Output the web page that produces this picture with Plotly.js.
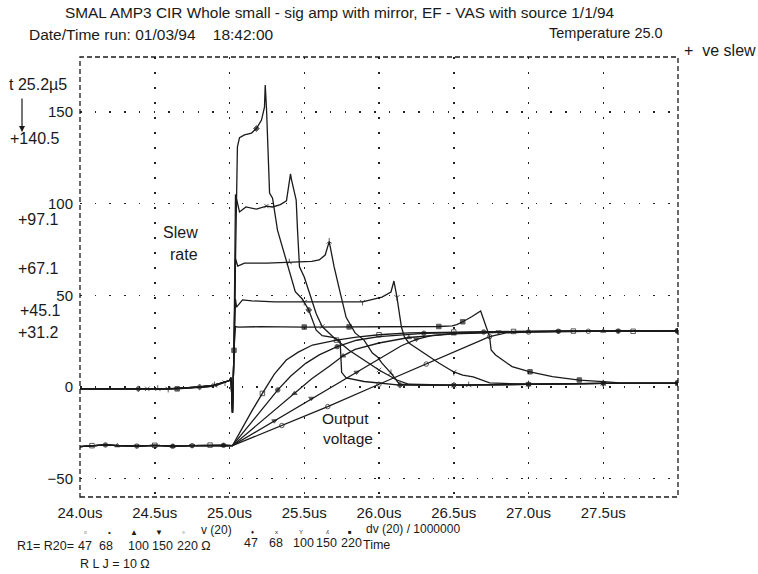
<!DOCTYPE html>
<html><head><meta charset="utf-8">
<script src="https://cdn.plot.ly/plotly-3.0.1.min.js"></script>
<style>body{margin:0;background:#fff}#chart{width:758px;height:574px}</style>
</head><body><div id="chart"></div>
<script>
// ---------- tick labels ----------
const xTickVals = [24.0, 24.5, 25.0, 25.5, 26.0, 26.5, 27.0, 27.5];
const xTickText = ["24.0us", "24.5us", "25.0us", "25.5us", "26.0us", "26.5us", "27.0us", "27.5us"];
const yTickVals = [-50, 0, 50, 100, 150];
const yTickText = ["\u221250", "0", "50", "100", "150"];

// ---------- resistor values ----------
const resistors = ["47", "68", "100", "150", "220"];
const slewPlateau = ["+140.5", "+97.1", "+67.1", "+45.1", "+31.2"];

// ---------- output voltage v(20) ----------
const base_t = [24.0, 24.08, 24.17, 24.25, 24.38, 24.5, 24.62, 24.75, 24.87, 24.96];
const base_v = [-32.5, -32, -31.6, -32, -32.2, -31.8, -32.3, -32, -31.7, -31.8];

const out47_t = [25.02, 25.06, 25.1, 25.15, 25.22, 25.3, 25.38, 25.46, 25.555, 25.716, 25.85, 26.0, 26.2, 26.5, 26.9, 27.3, 27.7, 28.0];
const out47_v = [-32, -26, -20, -13, -3.5, 7, 14.7, 19, 22.9, 25.6, 27.2, 28.5, 29.5, 30, 30.3, 30.5, 30.4, 30.6];
const out68_t = [25.02, 25.15, 25.24, 25.323, 25.41, 25.51, 25.6, 25.72, 25.85, 26.0, 26.3, 26.7, 27.2, 27.6, 28.0];
const out68_v = [-32, -19, -10, -1.6, 6, 12.9, 17.5, 22, 25.5, 27.5, 29.3, 30, 30.4, 30.5, 30.6];
const out100_t = [25.02, 25.2, 25.435, 25.55, 25.67, 25.76, 25.84, 26.0, 26.2, 26.5, 27.0, 27.5, 28.0];
const out100_v = [-32, -19.5, -3.5, 4.5, 11.5, 17, 20.5, 24, 27, 29, 30.2, 30.5, 30.6];
const out150_t = [25.02, 25.3, 25.547, 25.85, 26.15, 26.25, 26.35, 26.5, 26.8, 27.2, 27.6, 28.0];
const out150_v = [-32, -18.5, -6.2, 8, 22.5, 26, 28, 29.3, 30, 30.4, 30.5, 30.6];
const out220_t = [25.02, 25.35, 25.657, 26.0, 26.316, 26.6, 26.74, 26.85, 27.0, 27.4, 28.0];
const out220_v = [-32, -21, -10.7, 1.5, 12.5, 22.5, 27.5, 29.5, 30, 30.4, 30.6];

// ---------- slew rate dv(20)/1e6 ----------
const s47_t = [24.0, 24.2, 24.39, 24.55, 24.7, 24.8, 24.9, 24.97, 25.0, 25.01, 25.02, 25.03, 25.045, 25.053, 25.067, 25.1, 25.147, 25.18, 25.214, 25.227, 25.234, 25.239, 25.248, 25.268, 25.288, 25.321, 25.381, 25.44, 25.487, 25.53, 25.58, 25.62, 25.7, 25.74, 25.75, 25.78, 25.9, 26.14, 26.5, 27.0, 27.5, 28.0];
const s47_v = [-1, -1, -1, -1, -0.5, 0, 1, 2.5, 3.5, 5, -14, 20, 110, 131, 136, 137.5, 138.5, 141, 145.6, 150, 152.7, 164.7, 151, 105.8, 103, 85.6, 69, 52, 48, 42, 31, 28, 27, 25, 8, 5, 3, 1, 1, 1.5, 2, 2];
const s68_t = [24.0, 24.2, 24.45, 24.6, 24.7, 24.8, 24.9, 24.97, 25.0, 25.01, 25.02, 25.03, 25.04, 25.067, 25.11, 25.18, 25.247, 25.288, 25.34, 25.381, 25.408, 25.415, 25.446, 25.455, 25.468, 25.5, 25.535, 25.58, 25.62, 25.69, 25.8, 25.92, 26.0, 26.12, 26.2, 26.5, 27.0, 27.5, 28.0];
const s68_v = [-1, -1, -1, -1, -0.5, 0, 1, 2.5, 3.5, 5, -14, 20, 105, 95.5, 98.2, 97, 98.7, 98.2, 99.5, 101.5, 116.2, 113, 102, 85.6, 65.6, 60, 51, 40, 33, 27.5, 20, 13.6, 9.3, 3.8, 1.5, 1, 1.5, 2, 2];
const s100_t = [24.0, 24.2, 24.52, 24.6, 24.7, 24.8, 24.9, 24.97, 25.0, 25.01, 25.02, 25.03, 25.04, 25.055, 25.1, 25.25, 25.4, 25.55, 25.6, 25.64, 25.667, 25.70, 25.736, 25.78, 25.84, 25.90, 25.956, 25.99, 26.02, 26.08, 26.137, 26.3, 26.6, 27.0, 27.5, 28.0];
const s100_v = [-1, -1, -1, -1, -0.5, 0, 1, 2.5, 3.5, 5, -14, 20, 70, 66, 67.6, 67.6, 68, 68.5, 69.3, 72, 79.3, 65.5, 53, 38, 29.5, 25.6, 18.5, 16.4, 13, 7.6, 1.5, 1, 1, 1.5, 2, 2];
const s150_t = [24.0, 24.2, 24.59, 24.7, 24.8, 24.9, 24.97, 25.0, 25.01, 25.02, 25.03, 25.04, 25.047, 25.087, 25.15, 25.3, 25.5, 25.7, 25.89, 26.02, 26.08, 26.10, 26.12, 26.15, 26.17, 26.2, 26.27, 26.34, 26.40, 26.50, 26.56, 26.63, 26.74, 27.0, 27.5, 28.0];
const s150_v = [-1, -1, -1, -0.5, 0, 1, 2.5, 3.5, 5, -14, 20, 48, 43.6, 47.5, 47, 46.4, 46.4, 46.4, 46.4, 49, 51.8, 57.8, 49, 32.7, 27.3, 24, 20, 16.4, 13.1, 8.2, 6.5, 5.5, 2.2, 1.5, 2, 2];
const s220_t = [24.0, 24.2, 24.65, 24.75, 24.85, 24.92, 24.97, 25.0, 25.01, 25.02, 25.03, 25.04, 25.06, 25.2, 25.5, 25.8, 26.1, 26.4, 26.49, 26.52, 26.56, 26.62, 26.68, 26.706, 26.74, 26.75, 26.78, 26.89, 27.01, 27.16, 27.34, 27.5, 27.61, 28.0];
const s220_v = [-1, -1, -1, -0.5, 0, 1, 2.5, 3.5, 5, -14, 20, 33, 32.7, 32.9, 32.7, 32.8, 32.7, 33, 33.3, 34, 35.6, 38.3, 41.5, 34.9, 27.4, 20.2, 17.5, 11.1, 8.3, 5.6, 3.8, 2.9, 2.2, 2.2];

// ---------- helpers ----------
const INK = "#1a1a1a";
const FONT = "Liberation Sans, Arial, Helvetica, sans-serif";
const W = 758, H = 574, L = 80, R = 678, T = 57, B = 497;
const px = x => (x - L) / (R - L);
const py = y => (B - y) / (B - T);

function markerSizes(t, offset, size) {
  const s = t.map(() => 0);
  let next = 24.0 + offset;
  for (let i = 0; i < t.length; i++) {
    if (t[i] >= next) { s[i] = size; while (next <= t[i]) next += 0.38; }
  }
  return s;
}

const outSeries = [
  [out47_t, out47_v, "square-open", 0.06],
  [out68_t, out68_v, "circle", 0.13],
  [out100_t, out100_v, "triangle-up", 0.2],
  [out150_t, out150_v, "triangle-down", 0.27],
  [out220_t, out220_v, "circle-open", 0.34]
];
const slewSeries = [
  [s47_t, s47_v, "diamond", 0.39],
  [s68_t, s68_v, "x-thin-open", 0.45],
  [s100_t, s100_v, "y-up-open", 0.52],
  [s150_t, s150_v, "y-down-open", 0.59],
  [s220_t, s220_v, "square", 0.65]
];

const traces = [];
outSeries.forEach(([t, v, sym, off], k) => {
  const tt = base_t.concat(t), vv = base_v.concat(v);
  traces.push({
    type: "scatter", mode: "lines+markers", x: tt, y: vv,
    name: "v(20) R=" + resistors[k], showlegend: false, hoverinfo: "skip",
    line: {color: INK, width: 1.3},
    marker: {symbol: sym, color: INK, size: markerSizes(tt, off, 4.5), line: {color: INK, width: 1}}
  });
});
slewSeries.forEach(([t, v, sym, off], k) => {
  traces.push({
    type: "scatter", mode: "lines+markers", x: t, y: v,
    name: "dv(20) R=" + resistors[k], showlegend: false, hoverinfo: "skip",
    line: {color: INK, width: 1.3},
    marker: {symbol: sym, color: INK, size: markerSizes(t, off, 4.5), line: {color: INK, width: 1}}
  });
});

const ann = [];
function A(text, x, y, xanchor, size, extra) {
  ann.push(Object.assign({
    text: text, x: px(x), y: py(y), xref: "paper", yref: "paper",
    xanchor: xanchor, yanchor: "middle", showarrow: false,
    font: {family: FONT, size: size, color: INK}
  }, extra || {}));
}
A("SMAL AMP3 CIR Whole small - sig amp with mirror, EF - VAS with source 1/1/94", 63, 13, "left", 15.4);
A("Date/Time run: 01/03/94\u00a0\u00a0\u00a0\u00a018:42:00", 27, 34, "left", 15.5);
A("Temperature 25.0", 547, 33, "left", 14.5);
A("+\u00a0\u00a0ve slew", 682, 50, "left", 16);
A("t 25.2\u00b55", 7, 85, "left", 16);
// plateau values
const plateauY = [138, 219, 268, 310, 333];
const plateauX = [8, 16, 16, 18, 16];
slewPlateau.forEach((s, i) => A(s, plateauX[i], plateauY[i], "left", 16));
A("Slew", 200, 232, "right", 16);
A("rate", 200, 254, "right", 16);
A("Output", 320, 418, "left", 15.5);
A("voltage", 321, 438, "left", 15.5);
// arrow
ann.push({text: "", x: px(22), y: py(132), xref: "paper", yref: "paper", showarrow: true,
  ax: 0, ay: -35, arrowhead: 2, arrowsize: 1, arrowwidth: 1.2, arrowcolor: INK});

// legend area
const legSymA = ["\u25ab", "\u2022", "\u25b2", "\u25bc", "\u25e6"];
const legXA = [85, 109, 134, 159, 183];
legSymA.forEach((s, i) => A(s, legXA[i], 532, "center", 8));
A("v (20)", 199, 530, "left", 12);
A("R1= R20=", 15, 546, "left", 12.5);
const legNumXA = [85, 106, 138, 162];
resistors.slice(0, 4).forEach((r, i) => A(r, legNumXA[i], 546, "center", 12.5));
A(resistors[4] + " \u03a9", 175, 546, "left", 12.5);
A("R L J = 10 \u03a9", 78, 564, "left", 12.5);
const legSymB = ["\u2666", "x", "Y", "\u028e", "\u25a0"];
const legXB = [253, 276, 301, 327, 350];
legSymB.forEach((s, i) => A(s, legXB[i], 532, "center", 6));
const legNumXB = [251, 276, 303, 326, 351];
resistors.forEach((r, i) => A(r, legNumXB[i], 543, "center", 12.5));
A("Time", 361, 545, "left", 12.5);
A("dv (20) / 1000000", 364, 529, "left", 12);

const layout = {
  width: W, height: H,
  margin: {l: L, r: W - R, t: T, b: H - B, pad: 0},
  paper_bgcolor: "#fff", plot_bgcolor: "#fff",
  font: {family: FONT, size: 15, color: INK},
  showlegend: false,
  xaxis: {
    range: [24.0, 28.0], tickmode: "array", tickvals: xTickVals, ticktext: xTickText,
    showgrid: true, gridcolor: "#222", gridwidth: 1.5, griddash: "1.5px,13.5px",
    zeroline: false, showline: false, ticks: "", ticklabelstandoff: 5,
    tickfont: {family: FONT, size: 15, color: INK}, fixedrange: true
  },
  yaxis: {
    range: [-60, 180], tickmode: "array", tickvals: yTickVals, ticktext: yTickText,
    showgrid: true, gridcolor: "#222", gridwidth: 1.5, griddash: "1.5px,13.2px",
    zeroline: false, showline: false, ticks: "", ticklabelstandoff: 6,
    tickfont: {family: FONT, size: 15, color: INK}, fixedrange: true
  },
  shapes: [{type: "rect", xref: "paper", yref: "paper", x0: 0, x1: 1, y0: 0, y1: 1,
    line: {color: INK, width: 1.3, dash: "5px,3px"}}],
  annotations: ann
};

Plotly.newPlot("chart", traces, layout, {displayModeBar: false, staticPlot: true});
</script></body></html>
